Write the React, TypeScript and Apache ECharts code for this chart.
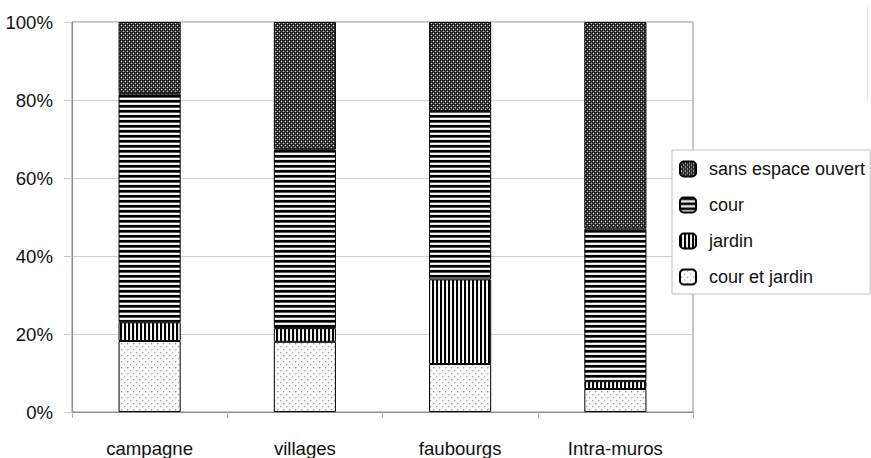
import React, { useEffect, useRef } from "react";
import * as echarts from "echarts";

const categories = ["campagne", "villages", "faubourgs", "Intra-muros"];
const courEtJardin = [18.2, 18.0, 12.3, 5.9];
const jardin = [4.8, 3.5, 21.7, 2.0];
const cour = [58.6, 45.8, 43.2, 39.1];
const sansEspace = [18.4, 32.7, 22.8, 53.0];
const yTicks = [0, 20, 40, 60, 80, 100];
const legendOrder = ["sans espace ouvert", "cour", "jardin", "cour et jardin"];

function makePattern(rows: string[][]) {
  const h = rows.length;
  const w = rows[0].length;
  const c = document.createElement("canvas");
  c.width = w;
  c.height = h;
  const ctx = c.getContext("2d")!;
  for (let y = 0; y < h; y++) {
    for (let x = 0; x < w; x++) {
      ctx.fillStyle = rows[y][x];
      ctx.fillRect(x, y, 1, 1);
    }
  }
  return { image: c, repeat: "repeat", imageWidth: w, imageHeight: h } as any;
}

const FONT = "'Liberation Sans', Arial, sans-serif";

export default function App() {
  const ref = useRef<HTMLDivElement>(null);
  useEffect(() => {
    if (!ref.current) return;
    const chart = echarts.init(ref.current, undefined, { renderer: "svg" });

    const K = "#000", W = "#fff", G = "#4a4a4a";
    const dark = makePattern([
      [K, G, K, G],
      [G, W, G, "#333"],
      [K, G, K, G],
      [G, "#333", G, "#ccc"],
    ]);
    const horiz = makePattern([[K], [K], ["#555"], [W], ["#e8e8e8"]]);
    const vert = makePattern([[K, K, "#e8e8e8", W]]);
    const L = "#fbfbfb";
    const dots = makePattern([
      [L, L, L, L, L, L],
      [L, "#999", "#d8d8d8", L, L, L],
      [L, "#d8d8d8", L, L, L, L],
      [L, L, L, L, L, L],
      [L, L, L, L, "#a5a5a5", "#e0e0e0"],
      [L, L, L, L, "#e0e0e0", L],
    ]);

    const seriesDefs = [
      { name: "cour et jardin", data: courEtJardin, color: dots },
      { name: "jardin", data: jardin, color: vert },
      { name: "cour", data: cour, color: horiz },
      { name: "sans espace ouvert", data: sansEspace, color: dark },
    ];

    chart.setOption({
      animation: false,
      backgroundColor: "#fff",
      textStyle: { fontFamily: FONT },
      grid: {
        left: 72,
        top: 22,
        right: 178,
        bottom: 45,
        show: true,
        borderColor: "#8c8c8c",
        borderWidth: 1,
      },
      legend: {
        data: legendOrder,
        orient: "vertical",
        left: 672,
        top: 150,
        padding: [10, 5, 8, 7],
        itemWidth: 16,
        itemHeight: 15,
        itemGap: 18,
        backgroundColor: "#fff",
        borderColor: "#bdbdbd",
        borderWidth: 1,
        textStyle: { fontSize: 18, color: "#111", fontFamily: FONT, padding: [0, 0, 0, 8] },
      },
      xAxis: {
        type: "category",
        data: categories,
        axisLine: { lineStyle: { color: "#8c8c8c" } },
        axisTick: { show: true, length: 6, lineStyle: { color: "#b0b0b0" } },
        axisLabel: { fontSize: 18.6, color: "#111", margin: 27, fontFamily: FONT },
      },
      yAxis: {
        type: "value",
        min: 0,
        max: 100,
        interval: 20,
        axisLine: { show: true, lineStyle: { color: "#8c8c8c" } },
        axisTick: { show: true, length: 8, lineStyle: { color: "#c8c8c8" } },
        splitLine: { lineStyle: { color: "#cfcfcf" } },
        axisLabel: {
          fontSize: 18.6,
          color: "#111",
          margin: 19,
          fontFamily: FONT,
          formatter: (v: number) => (yTicks.includes(v) ? v + "%" : ""),
        },
      },
      graphic: [
        {
          type: "line",
          shape: { x1: 867.5, y1: 5, x2: 867.5, y2: 100 },
          style: { stroke: "#e4e4e4", lineWidth: 1 },
        },
      ],
      series: seriesDefs.map((s) => ({
        name: s.name,
        type: "bar",
        stack: "total",
        barWidth: "40%",
        data: s.data,
        itemStyle: { color: s.color, borderColor: "#000", borderWidth: 1 },
      })),
    });
    return () => chart.dispose();
  }, []);
  return (
    <div
      ref={ref}
      style={{ position: "absolute", left: 0, top: 0, width: 871, height: 458 }}
    />
  );
}
